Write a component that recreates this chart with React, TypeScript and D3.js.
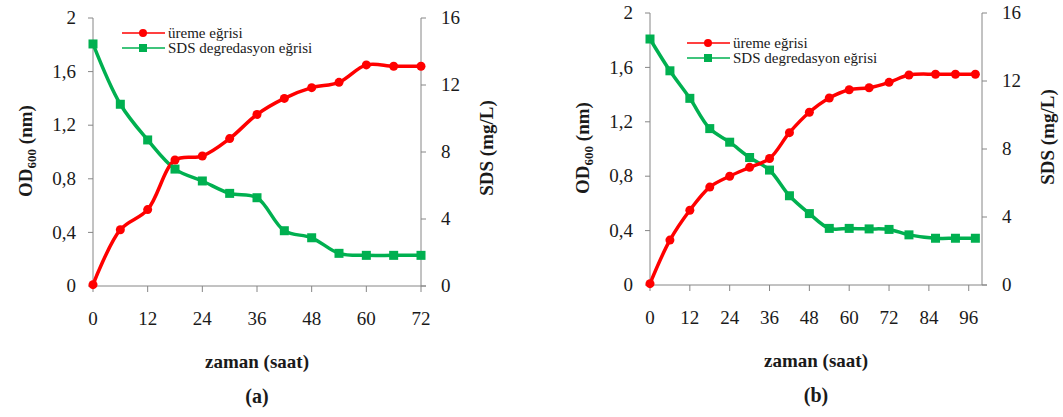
import React from 'react'
import * as d3 from 'd3'

// panel (a)
const hoursA = [0, 6, 12, 18, 24, 30, 36, 42, 48, 54, 60, 66, 72]
const odA = [0.01, 0.42, 0.57, 0.94, 0.97, 1.1, 1.28, 1.4, 1.48, 1.52, 1.65, 1.64, 1.64]
const sdsA = [14.45, 10.85, 8.72, 6.98, 6.27, 5.53, 5.27, 3.3, 2.88, 1.95, 1.83, 1.83, 1.83]
const xTicksA = [0, 12, 24, 36, 48, 60, 72]

// panel (b)
const hoursB = [0, 6, 12, 18, 24, 30, 36, 42, 48, 54, 60, 66, 72, 78, 86, 92, 98]
const odB = [0.01, 0.33, 0.55, 0.72, 0.8, 0.865, 0.93, 1.12, 1.27, 1.375, 1.436, 1.45, 1.49, 1.544, 1.55, 1.55, 1.55]
const sdsB = [14.47, 12.6, 10.98, 9.2, 8.4, 7.5, 6.76, 5.25, 4.2, 3.33, 3.33, 3.3, 3.27, 2.95, 2.75, 2.75, 2.75]
const xTicksB = [0, 12, 24, 36, 48, 60, 72, 84, 96]

const odTicks = [0, 0.4, 0.8, 1.2, 1.6, 2]
const sdsTicks = [0, 4, 8, 12, 16]
const legendLabels = ['üreme eğrisi', 'SDS degredasyon eğrisi']
const xTitle = 'zaman (saat)'

const RED = '#ff0000'
const GREEN = '#00b050'
const AXIS = '#868686'
const INK = '#1a1a1a'
const FAMILY = '"Liberation Serif", "Times New Roman", Tinos, serif'

const fmt = (v: number) => String(v).replace('.', ',')

function Panel({ hours, od, sds, xTicks, xMax, left, right, top, bottom, legend, tag, sdsTitleY }) {
  const x = d3.scaleLinear().domain([0, xMax]).range([left, right])
  const yL = d3.scaleLinear().domain([0, 2]).range([bottom, top])
  const yR = d3.scaleLinear().domain([0, 16]).range([bottom, top])
  const curve = d3.curveCatmullRom.alpha(0.5)
  const odLine = d3.line<number>().x((_, i) => x(hours[i])).y(d => yL(d)).curve(curve)
  const sdsLine = d3.line<number>().x((_, i) => x(hours[i])).y(d => yR(d)).curve(curve)
  const cx = (left + right) / 2

  return (
    <g>
      {/* axes */}
      <line x1={left} x2={left} y1={top} y2={bottom} stroke={AXIS} />
      <line x1={right} x2={right} y1={top} y2={bottom} stroke={AXIS} />
      <line x1={left} x2={right + 5} y1={bottom} y2={bottom} stroke={AXIS} />
      {odTicks.map(t => (
        <g key={'l' + t}>
          <line x1={left - 5} x2={left} y1={yL(t)} y2={yL(t)} stroke={AXIS} />
          <text x={left - 17} y={yL(t)} dy="0.33em" textAnchor="end" fontSize={19} fill={INK}>
            {fmt(t)}
          </text>
        </g>
      ))}
      {sdsTicks.map(t => (
        <g key={'r' + t}>
          <line x1={right} x2={right + 5} y1={yR(t)} y2={yR(t)} stroke={AXIS} />
          <text x={right + 20} y={yR(t)} dy="0.33em" textAnchor="start" fontSize={19} fill={INK}>
            {t}
          </text>
        </g>
      ))}
      {xTicks.map(t => (
        <g key={'x' + t}>
          <line x1={x(t)} x2={x(t)} y1={bottom} y2={bottom + 6} stroke={AXIS} />
          <text x={x(t)} y={bottom + 33} dy="0.33em" textAnchor="middle" fontSize={19} fill={INK}>
            {t}
          </text>
        </g>
      ))}

      {/* titles */}
      <text
        transform={`translate(${left - 61},${(top + bottom) / 2 - 1}) rotate(-90)`}
        textAnchor="middle"
        fontSize={19}
        fontWeight="bold"
        fill={INK}
      >
        OD<tspan fontSize={13} dy={4}>600</tspan>
        <tspan dy={-4}> (nm)</tspan>
      </text>
      <text
        transform={`translate(${right + 72},${sdsTitleY}) rotate(-90)`}
        textAnchor="middle"
        fontSize={19}
        fontWeight="bold"
        fill={INK}
      >
        SDS (mg/L)
      </text>
      <text x={cx} y={bottom + 76} dy="0.33em" textAnchor="middle" fontSize={19} fontWeight="bold" fill={INK}>
        {xTitle}
      </text>
      <text x={cx} y={bottom + 110} dy="0.33em" textAnchor="middle" fontSize={20} fontWeight="bold" fill={INK}>
        {tag}
      </text>

      {/* series */}
      <path d={sdsLine(sds) ?? ''} fill="none" stroke={GREEN} strokeWidth={3.5} />
      <path d={odLine(od) ?? ''} fill="none" stroke={RED} strokeWidth={3.5} />
      {sds.map((d, i) => (
        <rect key={'s' + i} x={x(hours[i]) - 4.5} y={yR(d) - 4.5} width={9} height={9} fill={GREEN} />
      ))}
      {od.map((d, i) => (
        <circle key={'o' + i} cx={x(hours[i])} cy={yL(d)} r={4.5} fill={RED} />
      ))}

      {/* legend */}
      <g transform={`translate(${legend[0]},${legend[1]})`}>
        <line x1={0} x2={43} y1={0} y2={0} stroke={RED} strokeWidth={1.5} />
        <circle cx={21} cy={0} r={4} fill={RED} />
        <text x={46} y={0} dy="0.33em" fontSize={15} fill={INK}>{legendLabels[0]}</text>
        <line x1={0} x2={43} y1={15} y2={15} stroke={GREEN} strokeWidth={1.5} />
        <rect x={17} y={11} width={8} height={8} fill={GREEN} />
        <text x={46} y={15} dy="0.33em" fontSize={15} fill={INK}>{legendLabels[1]}</text>
      </g>
    </g>
  )
}

export default function App() {
  return (
    <svg width={1063} height={417} style={{ position: 'absolute', left: 0, top: 0, background: '#fff' }}>
      <style>{`text, tspan { font-family: ${FAMILY} !important; }`}</style>
      <rect width={1063} height={417} fill="#fff" />
      <Panel
        hours={hoursA}
        od={odA}
        sds={sdsA}
        xTicks={xTicksA}
        xMax={72}
        left={93}
        right={421}
        top={18}
        bottom={286}
        legend={[122, 33]}
        tag="(a)"
        sdsTitleY={148}
      />
      <Panel
        hours={hoursB}
        od={odB}
        sds={sdsB}
        xTicks={xTicksB}
        xMax={100}
        left={650}
        right={982}
        top={13}
        bottom={285}
        legend={[687, 43]}
        tag="(b)"
        sdsTitleY={137}
      />
    </svg>
  )
}
